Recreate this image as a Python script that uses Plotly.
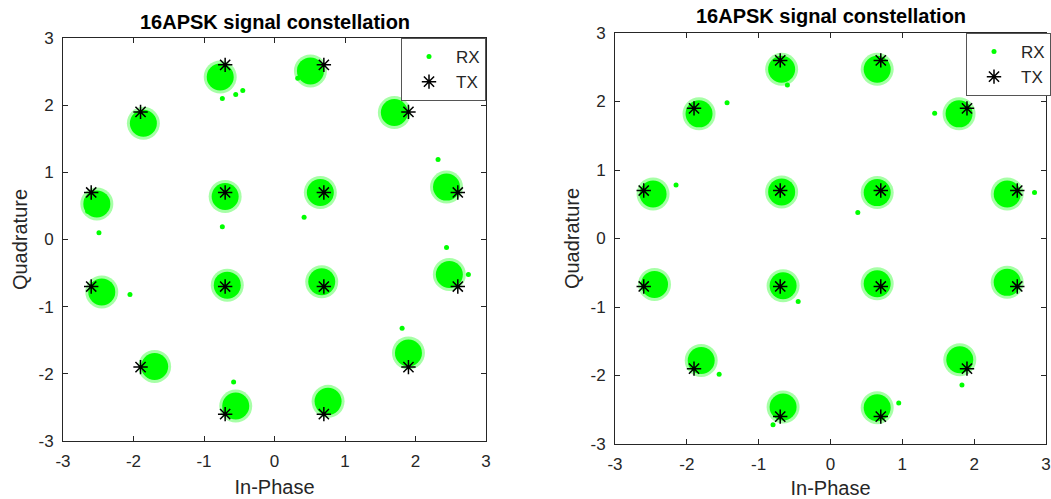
import plotly.graph_objects as go

# ---------------- data ----------------
tx_i = [0.7, 1.9, 2.6, 2.6, 1.9, 0.7, -0.7, -1.9, -2.6, -2.6, -1.9, -0.7, 0.7, -0.7, -0.7, 0.7]
tx_q = [2.6, 1.9, 0.7, -0.7, -1.9, -2.6, -2.6, -1.9, -0.7, 0.7, 1.9, 2.6, 0.7, 0.7, -0.7, -0.7]

# RX cluster centres, left panel
rx1_i = [0.51, 1.70, 2.44, 2.48, 1.90, 0.76, -0.55, -1.70, -2.45, -2.52, -1.86, -0.77, 0.65, -0.70, -0.67, 0.67]
rx1_q = [2.51, 1.89, 0.78, -0.52, -1.69, -2.41, -2.48, -1.89, -0.78, 0.53, 1.73, 2.42, 0.70, 0.64, -0.68, -0.63]
# RX outlying samples, left panel
rx1_out_i = [-0.74, 0.42, -0.74, -2.49, 2.32, 1.81, -0.58, -2.05, 2.44, 0.33, -2.65, 2.75, -0.55, -0.45]
rx1_out_q = [2.10, 0.33, 0.19, 0.10, 1.19, -1.32, -2.12, -0.82, -0.12, 2.40, 0.42, -0.52, 2.16, 2.22]

# RX cluster centres, right panel
rx2_i = [0.65, 1.79, 2.46, 2.46, 1.80, 0.65, -0.66, -1.80, -2.45, -2.47, -1.83, -0.68, 0.65, -0.68, -0.66, 0.65]
rx2_q = [2.47, 1.82, 0.65, -0.64, -1.77, -2.47, -2.46, -1.78, -0.67, 0.65, 1.82, 2.47, 0.67, 0.68, -0.69, -0.66]
# RX outlying samples, right panel
rx2_out_i = [2.84, -1.44, 1.83, -2.15, -0.45, 0.38, -1.55, 1.45, -0.80, 0.95, -0.60]
rx2_out_q = [0.67, 1.98, -2.14, 0.78, -0.92, 0.38, -1.98, 1.83, -2.72, -2.40, 2.24]

ticks = [-3, -2, -1, 0, 1, 2, 3]
tick_text = ["-3", "-2", "-1", "0", "1", "2", "3"]
title_text = "16APSK signal constellation"
x_label = "In-Phase"
y_label = "Quadrature"

# ---------------- figure ----------------
W, H = 1051, 499
GREEN = "#00ff00"
FONT = "Liberation Sans, Arial, sans-serif"
AX = "#262626"

fig = go.Figure()

panels = [
    ("x", "y", "legend", rx1_i, rx1_q, rx1_out_i, rx1_out_q),
    ("x2", "y2", "legend2", rx2_i, rx2_q, rx2_out_i, rx2_out_q),
]
for xa, ya, lg, ci, cq, oi, oq in panels:
    # speckled fringe of the received clouds
    fig.add_trace(go.Scatter(x=ci, y=cq, xaxis=xa, yaxis=ya, mode="markers",
                             marker=dict(color=GREEN, size=33, opacity=0.35, line=dict(width=0)),
                             showlegend=False, hoverinfo="skip"))
    # dense cores of the received clouds
    fig.add_trace(go.Scatter(x=ci, y=cq, xaxis=xa, yaxis=ya, mode="markers",
                             marker=dict(color=GREEN, size=27, line=dict(width=0)),
                             showlegend=False, hoverinfo="skip"))
    # sparse received samples (also legend entry)
    fig.add_trace(go.Scatter(x=oi, y=oq, xaxis=xa, yaxis=ya, mode="markers", name="RX",
                             marker=dict(color=GREEN, size=5, line=dict(width=0)),
                             legend=lg))
    fig.add_trace(go.Scatter(x=tx_i, y=tx_q, xaxis=xa, yaxis=ya, mode="markers", name="TX",
                             marker=dict(symbol="asterisk-open", size=12, color="black",
                                         line=dict(color="black", width=1.5)),
                             legend=lg))

def axis(domain, title, anchor, standoff):
    return dict(domain=domain, anchor=anchor, range=[-3, 3], tickmode="array",
                tickvals=ticks, ticktext=tick_text, ticks="inside", ticklen=5,
                tickcolor=AX, showline=True, linecolor=AX, linewidth=1, mirror="ticks",
                showgrid=False, zeroline=False, ticklabelstandoff=5, automargin=False,
                tickfont=dict(family=FONT, size=17, color=AX),
                title=dict(text=title, font=dict(family=FONT, size=20, color=AX),
                           standoff=standoff))

legend_common = dict(bgcolor="white", bordercolor="#555555", borderwidth=1,
                     font=dict(family=FONT, size=17, color=AX), itemwidth=44,
                     tracegroupgap=0, yanchor="top", xanchor="right")

fig.update_layout(
    width=W, height=H, margin=dict(l=0, r=0, t=0, b=0, autoexpand=False),
    paper_bgcolor="white", plot_bgcolor="white",
    xaxis=axis([63 / W, 486 / W], x_label, "y", 9),
    yaxis=axis([58 / H, 461 / H], y_label, "x", 5),
    xaxis2=axis([615 / W, 1046 / W], x_label, "y2", 9),
    yaxis2=axis([55 / H, 466 / H], y_label, "x2", 5),
    legend=dict(x=486 / W, y=461 / H, **legend_common),
    legend2=dict(x=1.0, y=466 / H, **legend_common),
    annotations=[
        dict(text="<b>" + title_text + "</b>", x=274.5 / W, y=(H - 22) / H,
             xref="paper", yref="paper", showarrow=False, xanchor="center", yanchor="middle",
             font=dict(family=FONT, size=20, color="black")),
        dict(text="<b>" + title_text + "</b>", x=830.5 / W, y=(H - 16) / H,
             xref="paper", yref="paper", showarrow=False, xanchor="center", yanchor="middle",
             font=dict(family=FONT, size=20, color="black")),
    ],
)

fig.write_html("out.html")
